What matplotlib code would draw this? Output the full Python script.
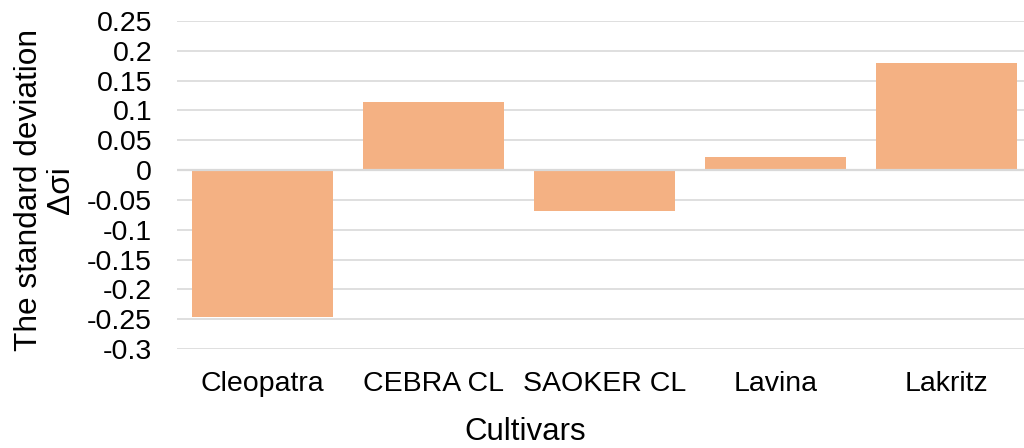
import matplotlib.pyplot as plt
import numpy as np

# ── data ─────────────────────────────────────────────────────────────────────
cultivars = ['Cleopatra', 'CEBRA CL', 'SAOKER CL', 'Lavina', 'Lakritz']
delta_sigma = [-0.247, 0.114, -0.069, 0.022, 0.180]
y_ticks = [0.25, 0.2, 0.15, 0.1, 0.05, 0, -0.05, -0.1, -0.15, -0.2, -0.25, -0.3]
y_tick_labels = ['0.25', '0.2', '0.15', '0.1', '0.05', '0', '-0.05', '-0.1',
                 '-0.15', '-0.2', '-0.25', '-0.3']

plt.rcParams['font.family'] = ['Liberation Sans', 'DejaVu Sans']

fig = plt.figure(figsize=(10.24, 4.48), dpi=100)
ax = fig.add_axes([177 / 1024, 1 - 349 / 448, 855 / 1024, 328 / 448])

x = np.arange(len(cultivars))
ax.bar(x, delta_sigma, width=0.83, color='#F4B183', zorder=2)

# gridlines and zero line
ax.set_yticks(y_ticks)
ax.set_yticklabels(y_tick_labels, fontsize=20.5)
ax.yaxis.grid(True, color='#D9D9D9', linewidth=1.2, zorder=1)
ax.axhline(0, color='#D9D9D9', linewidth=1.6, zorder=3)
ax.set_axisbelow(True)

ax.set_xticks(x)
ax.set_xticklabels(cultivars, fontsize=20.5)
ax.set_xlim(-0.5, len(cultivars) - 0.5)
ax.set_ylim(-0.3, 0.25)

ax.tick_params(axis='both', length=0)
ax.tick_params(axis='y', pad=18)
ax.tick_params(axis='x', pad=16)
for s in ax.spines.values():
    s.set_visible(False)

ax.set_xlabel('Cultivars', fontsize=22.5)
ax.xaxis.set_label_coords(0.407, -0.208)
ax.set_ylabel('The standard deviation\nΔσi', fontsize=22.8, linespacing=1.1)
ax.yaxis.set_label_coords(-0.118, 0.485)

fig.savefig('out.png', dpi=100)
